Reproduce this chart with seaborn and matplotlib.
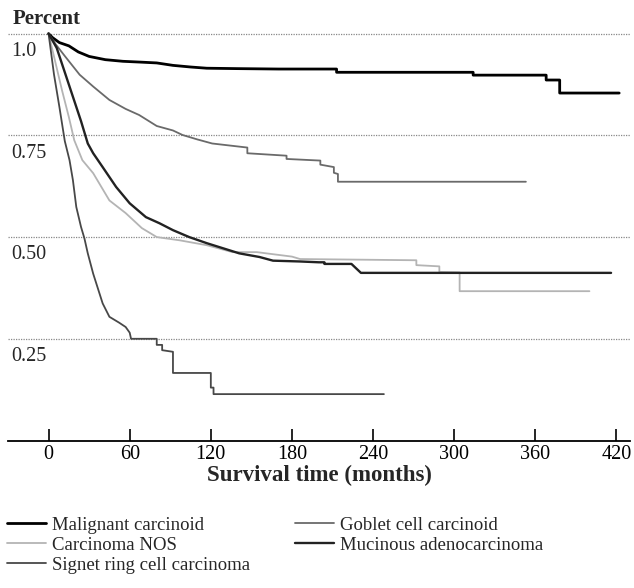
import pandas as pd
import matplotlib
matplotlib.use("Agg")
import matplotlib.pyplot as plt
import seaborn as sns

# ---------- DATA ----------
groups = ["Malignant carcinoid", "Carcinoma NOS", "Signet ring cell carcinoma",
          "Goblet cell carcinoid", "Mucinous adenocarcinoma"]

malignant_t = [0, 3, 8, 15, 22, 30, 42, 55, 68, 80, 92, 105, 117, 140, 170,
               213, 213, 314, 314, 368, 368, 378, 378, 422]
malignant_s = [1.0, 0.99, 0.978, 0.97, 0.955, 0.944, 0.936, 0.932, 0.93, 0.928, 0.922, 0.918, 0.915, 0.914, 0.913,
               0.913, 0.905, 0.905, 0.898, 0.898, 0.886, 0.886, 0.854, 0.854]

nos_t = [0, 5, 10, 15, 19, 25, 33, 45, 57, 69, 80, 97, 117, 136, 154, 161, 180, 186,
         272, 272, 289, 289, 304, 304, 400]
nos_s = [1.0, 0.93, 0.86, 0.795, 0.738, 0.689, 0.657, 0.59, 0.559, 0.522, 0.50, 0.492, 0.48, 0.463, 0.463, 0.46, 0.452, 0.446,
         0.443, 0.431, 0.428, 0.414, 0.413, 0.367, 0.367]

signet_t = [0, 4, 8, 12, 15.5, 18, 20.5, 24, 26.5, 29, 33, 40, 45, 52, 57, 60, 61,
            80, 80, 84, 84, 92, 92, 120, 120, 122, 122, 248]
signet_s = [1.0, 0.9, 0.82, 0.736, 0.689, 0.64, 0.574, 0.525, 0.497, 0.46, 0.41, 0.337, 0.304, 0.29, 0.279, 0.265, 0.25,
            0.25, 0.235, 0.235, 0.222, 0.218, 0.166, 0.166, 0.13, 0.13, 0.114, 0.114]

goblet_t = [0, 5, 12, 23, 33, 45, 57, 67, 80, 92, 99, 110, 121, 147, 147, 176, 176,
            201, 201, 211, 211, 214, 214, 353]
goblet_s = [1.0, 0.975, 0.945, 0.899, 0.87, 0.837, 0.815, 0.80, 0.773, 0.762, 0.751, 0.74, 0.73, 0.72, 0.706, 0.70, 0.692,
            0.688, 0.678, 0.672, 0.658, 0.655, 0.636, 0.636]

mucinous_t = [0, 6, 12, 18, 24, 29, 33, 40, 50, 60, 72, 82, 92, 104, 117, 141, 156, 166, 186, 200,
              204, 204, 224, 231, 416]
mucinous_s = [1.0, 0.965, 0.905, 0.845, 0.785, 0.73, 0.706, 0.672, 0.623, 0.583, 0.549, 0.534, 0.517, 0.50, 0.485, 0.46,
              0.451, 0.442, 0.44, 0.438, 0.438, 0.434, 0.434, 0.412, 0.412]

x_ticks = [0, 60, 120, 180, 240, 300, 360, 420]
y_ticks = [0.25, 0.50, 0.75, 1.0]
y_labels = ["0.25", "0.50", "0.75", "1.0"]

series = {
    "Malignant carcinoid": (malignant_t, malignant_s),
    "Carcinoma NOS": (nos_t, nos_s),
    "Signet ring cell carcinoma": (signet_t, signet_s),
    "Goblet cell carcinoid": (goblet_t, goblet_s),
    "Mucinous adenocarcinoma": (mucinous_t, mucinous_s),
}
colors = {"Malignant carcinoid": "#000000", "Carcinoma NOS": "#b4b4b4",
          "Signet ring cell carcinoma": "#484848", "Goblet cell carcinoid": "#6a6a6a",
          "Mucinous adenocarcinoma": "#222222"}
widths = {"Malignant carcinoid": 2.0, "Carcinoma NOS": 1.3, "Signet ring cell carcinoma": 1.3,
          "Goblet cell carcinoid": 1.3, "Mucinous adenocarcinoma": 1.7}

rows = []
for g in groups:
    t, s = series[g]
    rows += [{"month": a, "survival": b, "group": g} for a, b in zip(t, s)]
df = pd.DataFrame(rows)

# ---------- PLOT ----------
sns.set_theme(style="white")
plt.rcParams["font.family"] = ["Liberation Serif", "DejaVu Serif"]

fig = plt.figure(figsize=(6.34, 5.88), dpi=100)
ax = fig.add_axes([8 / 634, 1 - 440.5 / 588, 622 / 634, 415 / 588])

for g in groups:
    sns.lineplot(data=df[df["group"] == g], x="month", y="survival",
                 estimator=None, sort=False, color=colors[g], lw=widths[g],
                 label=g, ax=ax)

ax.set_xlim(-30, 430)
ax.set_ylim(0, 1.02)

for v in y_ticks:
    ax.axhline(v, color="#888888", lw=0.9, ls=(0, (1, 1)), zorder=0)
for v, lab in zip(y_ticks, y_labels):
    ax.annotate(lab, xy=(0, v), xycoords=("axes fraction", "data"),
                xytext=(2.5, -6), textcoords="offset points",
                ha="left", va="top", fontsize=14.5)

ax.set_yticks([])
ax.set_xticks(x_ticks)
ax.tick_params(axis="x", direction="in", length=9, width=1.2, pad=3,
               labelsize=14.5, bottom=True, colors="black")
for side in ["left", "right", "top"]:
    ax.spines[side].set_visible(False)
ax.spines["bottom"].set_color("black")
ax.spines["bottom"].set_linewidth(1.3)

ax.set_ylabel("")
ax.set_xlabel("Survival time (months)", fontsize=16.5, fontweight="bold")
ax.xaxis.label.set_va("center")
ax.xaxis.set_label_coords(0.5, -0.084)

fig.text(13 / 634, 1 - 9 / 588, "Percent", ha="left", va="top",
         fontsize=15, fontweight="bold")

handles, labels = ax.get_legend_handles_labels()
ax.get_legend().remove()
fig.legend(handles, labels, ncol=2, loc="upper left",
           bbox_to_anchor=(0.0, 1 - 510 / 588), frameon=False,
           fontsize=13.5, handlelength=2.1, handletextpad=0.3,
           labelspacing=0.15, columnspacing=2.4, borderpad=0.15,
           borderaxespad=0.2)

fig.savefig("out.png", dpi=100)
